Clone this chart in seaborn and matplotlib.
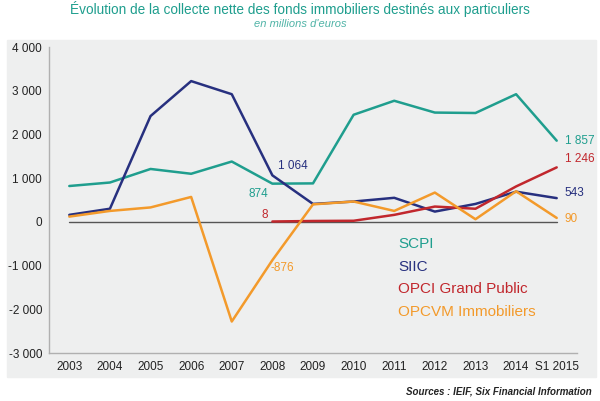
import pandas as pd
import seaborn as sns
import matplotlib.pyplot as plt
from matplotlib.patches import Rectangle

# --- Data (millions d'euros) ---
years = ['2003', '2004', '2005', '2006', '2007', '2008', '2009', '2010',
         '2011', '2012', '2013', '2014', 'S1 2015']
scpi = [820, 900, 1210, 1100, 1380, 874, 880, 2450, 2770, 2500, 2490, 2920, 1857]
siic = [160, 300, 2420, 3220, 2920, 1064, 410, 465, 550, 235, 410, 690, 543]
opci = [None, None, None, None, None, 8, 20, 25, 160, 350, 300, 810, 1246]
opcvm = [120, 250, 330, 570, -2280, -876, 400, 465, 250, 670, 60, 700, 90]

names = ['SCPI', 'SIIC', 'OPCI Grand Public', 'OPCVM Immobiliers']
colors = ['#1f9e8e', '#27307f', '#c1272d', '#f39a2b']

rows = []
for name, vals in zip(names, [scpi, siic, opci, opcvm]):
    for i, v in enumerate(vals):
        if v is not None:
            rows.append({'pos': i, 'value': v, 'serie': name})
df = pd.DataFrame(rows)

sns.set_style('white')
plt.rcParams['font.family'] = ['Liberation Sans', 'DejaVu Sans']

fig = plt.figure(figsize=(6, 4.01), dpi=100)
W, H = 600, 401
# grey panel behind the chart
fig.patches.append(Rectangle((7 / W, 1 - 377 / H), 589 / W, 337 / H,
                             transform=fig.transFigure, color='#eeefef', zorder=-5))

ax = fig.add_axes([49 / W, 1 - 353 / H, 528 / W, 306 / H])
ax.set_facecolor('none')
ax.set_zorder(2)

ax.axhline(0, color='#555555', lw=1, xmin=0.5 / 13, xmax=12.5 / 13, zorder=1)
sns.lineplot(data=df, x='pos', y='value', hue='serie', hue_order=names,
             palette=colors, linewidth=1.8, legend=False, ax=ax, zorder=3)

ax.set_xlim(-0.5, 12.5)
ax.set_ylim(-3000, 4000)
ax.set_yticks(range(-3000, 4001, 1000))
ax.set_yticklabels([f'{v:,}'.replace(',', ' ') for v in range(-3000, 4001, 1000)],
                   fontsize=8.5, color='#222222')
ax.set_xticks(range(len(years)))
ax.set_xticklabels(years, fontsize=8.5, color='#222222')
ax.set_xticks([i + 0.5 for i in range(-1, 13)], minor=True)
ax.tick_params(axis='x', which='major', length=0, pad=6)
ax.tick_params(axis='x', which='minor', length=3, color='#aaaaaa', direction='in')
ax.tick_params(axis='y', length=3, color='#aaaaaa', pad=2)
ax.set_xlabel('')
ax.set_ylabel('')
for s in ['top', 'right']:
    ax.spines[s].set_visible(False)
for s in ['left', 'bottom']:
    ax.spines[s].set_color('#b0b0b0')
    ax.spines[s].set_linewidth(1)

# value labels
lab = dict(fontsize=8.5)
ax.text(5.5, 1270, '1 064', color=colors[1], ha='center', va='center', **lab)
ax.text(4.65, 640, '874', color=colors[0], ha='center', va='center', **lab)
ax.text(4.8, 160, '8', color=colors[2], ha='center', va='center', **lab)
ax.text(5.25, -1060, '-876', color=colors[3], ha='center', va='center', **lab)
ax.text(12.2, 1857, '1 857', color=colors[0], ha='left', va='center', **lab)
ax.text(12.2, 1440, '1 246', color=colors[2], ha='left', va='center', **lab)
ax.text(12.2, 660, '543', color=colors[1], ha='left', va='center', **lab)
ax.text(12.2, 60, '90', color=colors[3], ha='left', va='center', **lab)

# legend as coloured text
for k, (name, c) in enumerate(zip(names, colors)):
    fig.text(398 / W, 1 - (244 + 22.7 * k) / H, name, color=c, fontsize=11,
             ha='left', va='center')

fig.text(0.5, 1 - 9 / H, 'Évolution de la collecte nette des fonds immobiliers destinés aux particuliers',
         color='#1f9e8e', fontsize=9.8, ha='center', va='center')
fig.text(0.5, 1 - 24 / H, "en millions d'euros", color='#4fb3a6', fontsize=8,
         style='italic', ha='center', va='center')
fig.text(592 / W, 1 - 391 / H, 'Sources : IEIF, Six Financial Information',
         color='#222222', fontsize=7, style='italic', weight='bold',
         ha='right', va='center')

fig.savefig('out.png', dpi=100)
